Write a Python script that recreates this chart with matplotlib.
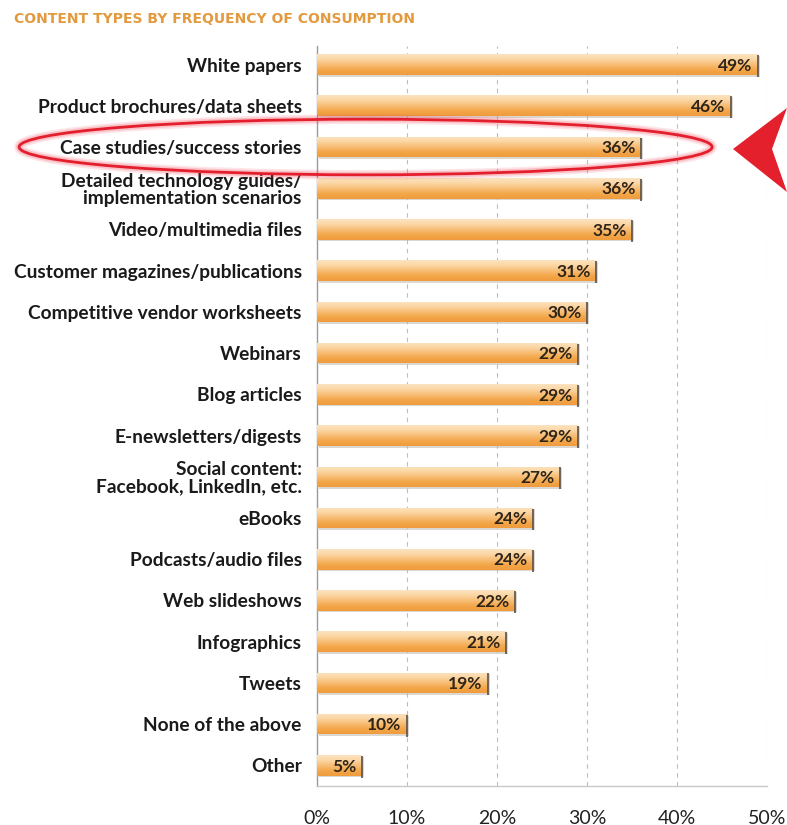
import numpy as np
import matplotlib
matplotlib.use("Agg")
import matplotlib.pyplot as plt
from matplotlib.patches import Ellipse, Polygon
from matplotlib.colors import LinearSegmentedColormap

title = "CONTENT TYPES BY FREQUENCY OF CONSUMPTION"
categories = [
    "White papers",
    "Product brochures/data sheets",
    "Case studies/success stories",
    "Detailed technology guides/\nimplementation scenarios",
    "Video/multimedia files",
    "Customer magazines/publications",
    "Competitive vendor worksheets",
    "Webinars",
    "Blog articles",
    "E-newsletters/digests",
    "Social content:\nFacebook, LinkedIn, etc.",
    "eBooks",
    "Podcasts/audio files",
    "Web slideshows",
    "Infographics",
    "Tweets",
    "None of the above",
    "Other",
]
values = [49, 46, 36, 36, 35, 31, 30, 29, 29, 29, 27, 24, 24, 22, 21, 19, 10, 5]
xticks = [0, 10, 20, 30, 40, 50]
xticklabels = ["0%", "10%", "20%", "30%", "40%", "50%"]
highlight_index = 2

W, H = 787, 825
fig = plt.figure(figsize=(W / 100, H / 100), dpi=100)
ax = fig.add_axes([317 / W, 1 - 786 / H, (767 - 317) / W, (786 - 46) / H])

n = len(categories)
y = np.arange(n)
bh = 0.5
bars = ax.barh(y, values, height=bh, color="#F5B263", edgecolor="none", zorder=3)

cmap = LinearSegmentedColormap.from_list(
    "bar", ["#FCE3C0", "#FBD6A4", "#F7BE76", "#F3A74A", "#EF9C3C"])
grad = np.linspace(0, 1, 64).reshape(-1, 1)
for rect in bars:
    x0, yb = rect.get_x(), rect.get_y()
    w, h = rect.get_width(), rect.get_height()
    im = ax.imshow(grad, cmap=cmap, aspect="auto",
                   extent=(x0, x0 + w, yb + h, yb), zorder=4,
                   interpolation="bicubic")
    im.set_clip_path(rect)
# shadows at bar ends and bottoms
ax.vlines(values, y - bh / 2 + 0.02, y + bh / 2 + 0.05, color="#5a5048",
          linewidth=1.2, zorder=5)
ax.barh(y + 0.04, values, height=bh, left=0.25, color="#B9B2AA", alpha=0.5,
        edgecolor="none", zorder=2)

for yi, v in zip(y, values):
    ax.text(v - 0.6, yi + 0.03, f"{v}%", ha="right", va="center",
            fontsize=12.5, fontweight="bold", color="#2e2418",
            family="Lato", zorder=6)

ax.set_xlim(0, 50)
ax.set_ylim(n - 1 + 0.5, -0.45)
ax.set_yticks(y)
ax.set_yticklabels(categories, fontsize=13.8, fontweight="bold",
                   family="Lato", color="#1a1a1a", linespacing=1.0)
ax.set_xticks(xticks)
ax.set_xticklabels(xticklabels, fontsize=14, family="Lato", color="#222222")
ax.tick_params(axis="y", length=0, pad=11)
ax.tick_params(axis="x", length=0, pad=17)

for xv in xticks[1:]:
    ax.axvline(xv, color="#BDBDBD", linewidth=0.8, linestyle=(0, (4, 4)), zorder=1)

for s in ["top", "right"]:
    ax.spines[s].set_visible(False)
ax.spines["left"].set_color("#9a9a9a")
ax.spines["left"].set_linewidth(1.0)
ax.spines["bottom"].set_color("#C8C8C8")
ax.spines["bottom"].set_linewidth(1.0)

# highlight ellipse
for lw, a in [(7, 0.12), (4.5, 0.2)]:
    ax.add_patch(Ellipse((5.4, highlight_index), 77, 1.35, fill=False,
                         edgecolor="#F03040", linewidth=lw, alpha=a,
                         clip_on=False, zorder=7))
ax.add_patch(Ellipse((5.4, highlight_index), 77, 1.35, fill=False,
                     edgecolor="#E31E2D", linewidth=2.0,
                     clip_on=False, zorder=8))

# arrow pointer
tri = Polygon([(733 / W, 1 - 149 / H), (787 / W, 1 - 108 / H),
               (772 / W, 1 - 149 / H), (787 / W, 1 - 192 / H)],
              closed=True, transform=fig.transFigure, facecolor="#E3202B",
              edgecolor="none")
fig.patches.append(tri)

fig.text(14 / W, 1 - 19 / H, title, fontsize=10, fontweight="bold",
         color="#E39A3E", family=["Liberation Sans Narrow", "DejaVu Sans"],
         va="center", ha="left")

fig.savefig("out.png", dpi=100)
